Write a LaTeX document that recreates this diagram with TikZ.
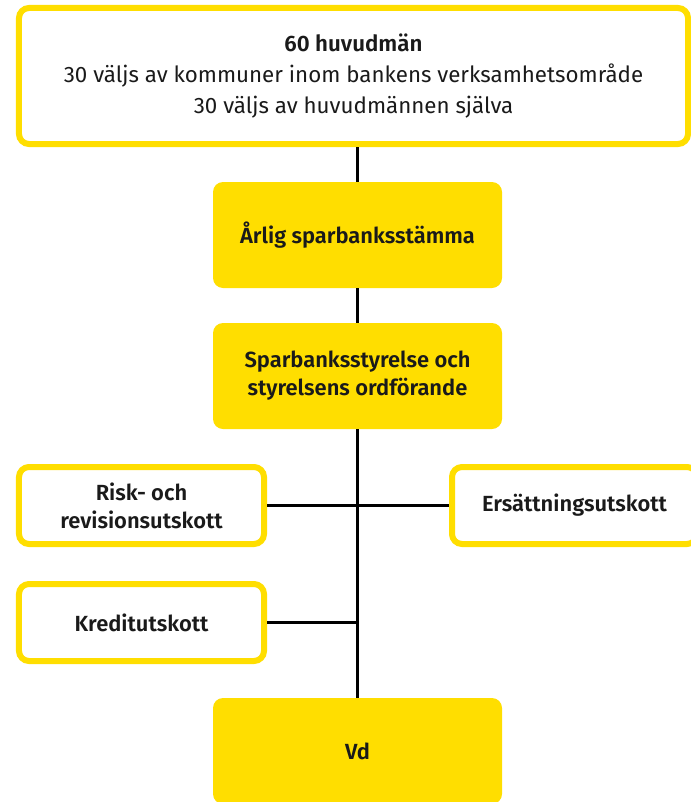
\documentclass[tikz,border=0pt]{standalone}
\usepackage{fontspec}
\setmainfont{Fira Sans}[BoldFont = {Fira Sans SemiBold}]
\usepackage{tikz}
\definecolor{sbyellow}{HTML}{FFDE00}
\definecolor{sbtext}{HTML}{1A1A1A}

\begin{document}
\begin{tikzpicture}[x=1bp, y=-1bp]
\tikzset{
	base box/.style = {rectangle, rounded corners = 10bp, align = center, text = sbtext,
		font = \fontsize{22}{28}\selectfont\bfseries},
	solid box/.style = {base box, fill = sbyellow, minimum width = 289bp, minimum height = 106bp},
	hollow box/.style = {base box, draw = sbyellow, line width = 6bp, fill = white,
		minimum width = 245bp, minimum height = 77bp},
	link/.style = {line width = 3bp, draw = black},
}
\useasboundingbox (0,0) rectangle (691,802);

\node(top)[base box, draw = sbyellow, line width = 6bp, minimum width = 669bp, minimum height = 136bp,
	font = \fontsize{22.4}{31}\selectfont] at (353.5,76)
	{\textbf{60 huvudmän}\\30 väljs av kommuner inom bankens verksamhetsområde\\30 väljs av huvudmännen själva};
\node(aarlig)[solid box] at (357.5,235) {Årlig sparbanksstämma};
\node(styr)[solid box] at (357.5,376) {Sparbanksstyrelse och\\styrelsens ordförande};
\node(risk)[hollow box] at (141.5,505.5) {Risk- och\\revisionsutskott};
\node(ersatt)[hollow box] at (574.5,505.5) {Ersättningsutskott};
\node(kredit)[hollow box] at (141.5,622.5) {Kreditutskott};
\node(vd)[solid box] at (357.5,751) {Vd};

\draw [link] (aarlig.north |- top.south) -- (aarlig.north);
\draw [link] (aarlig) -- (styr);
\draw [link] (styr.south) -- (vd.north);
\draw [link] (risk.east) -- (ersatt.west);
\draw [link] (kredit.east) -- (kredit.east -| vd.north);

\end{tikzpicture}
\end{document}
